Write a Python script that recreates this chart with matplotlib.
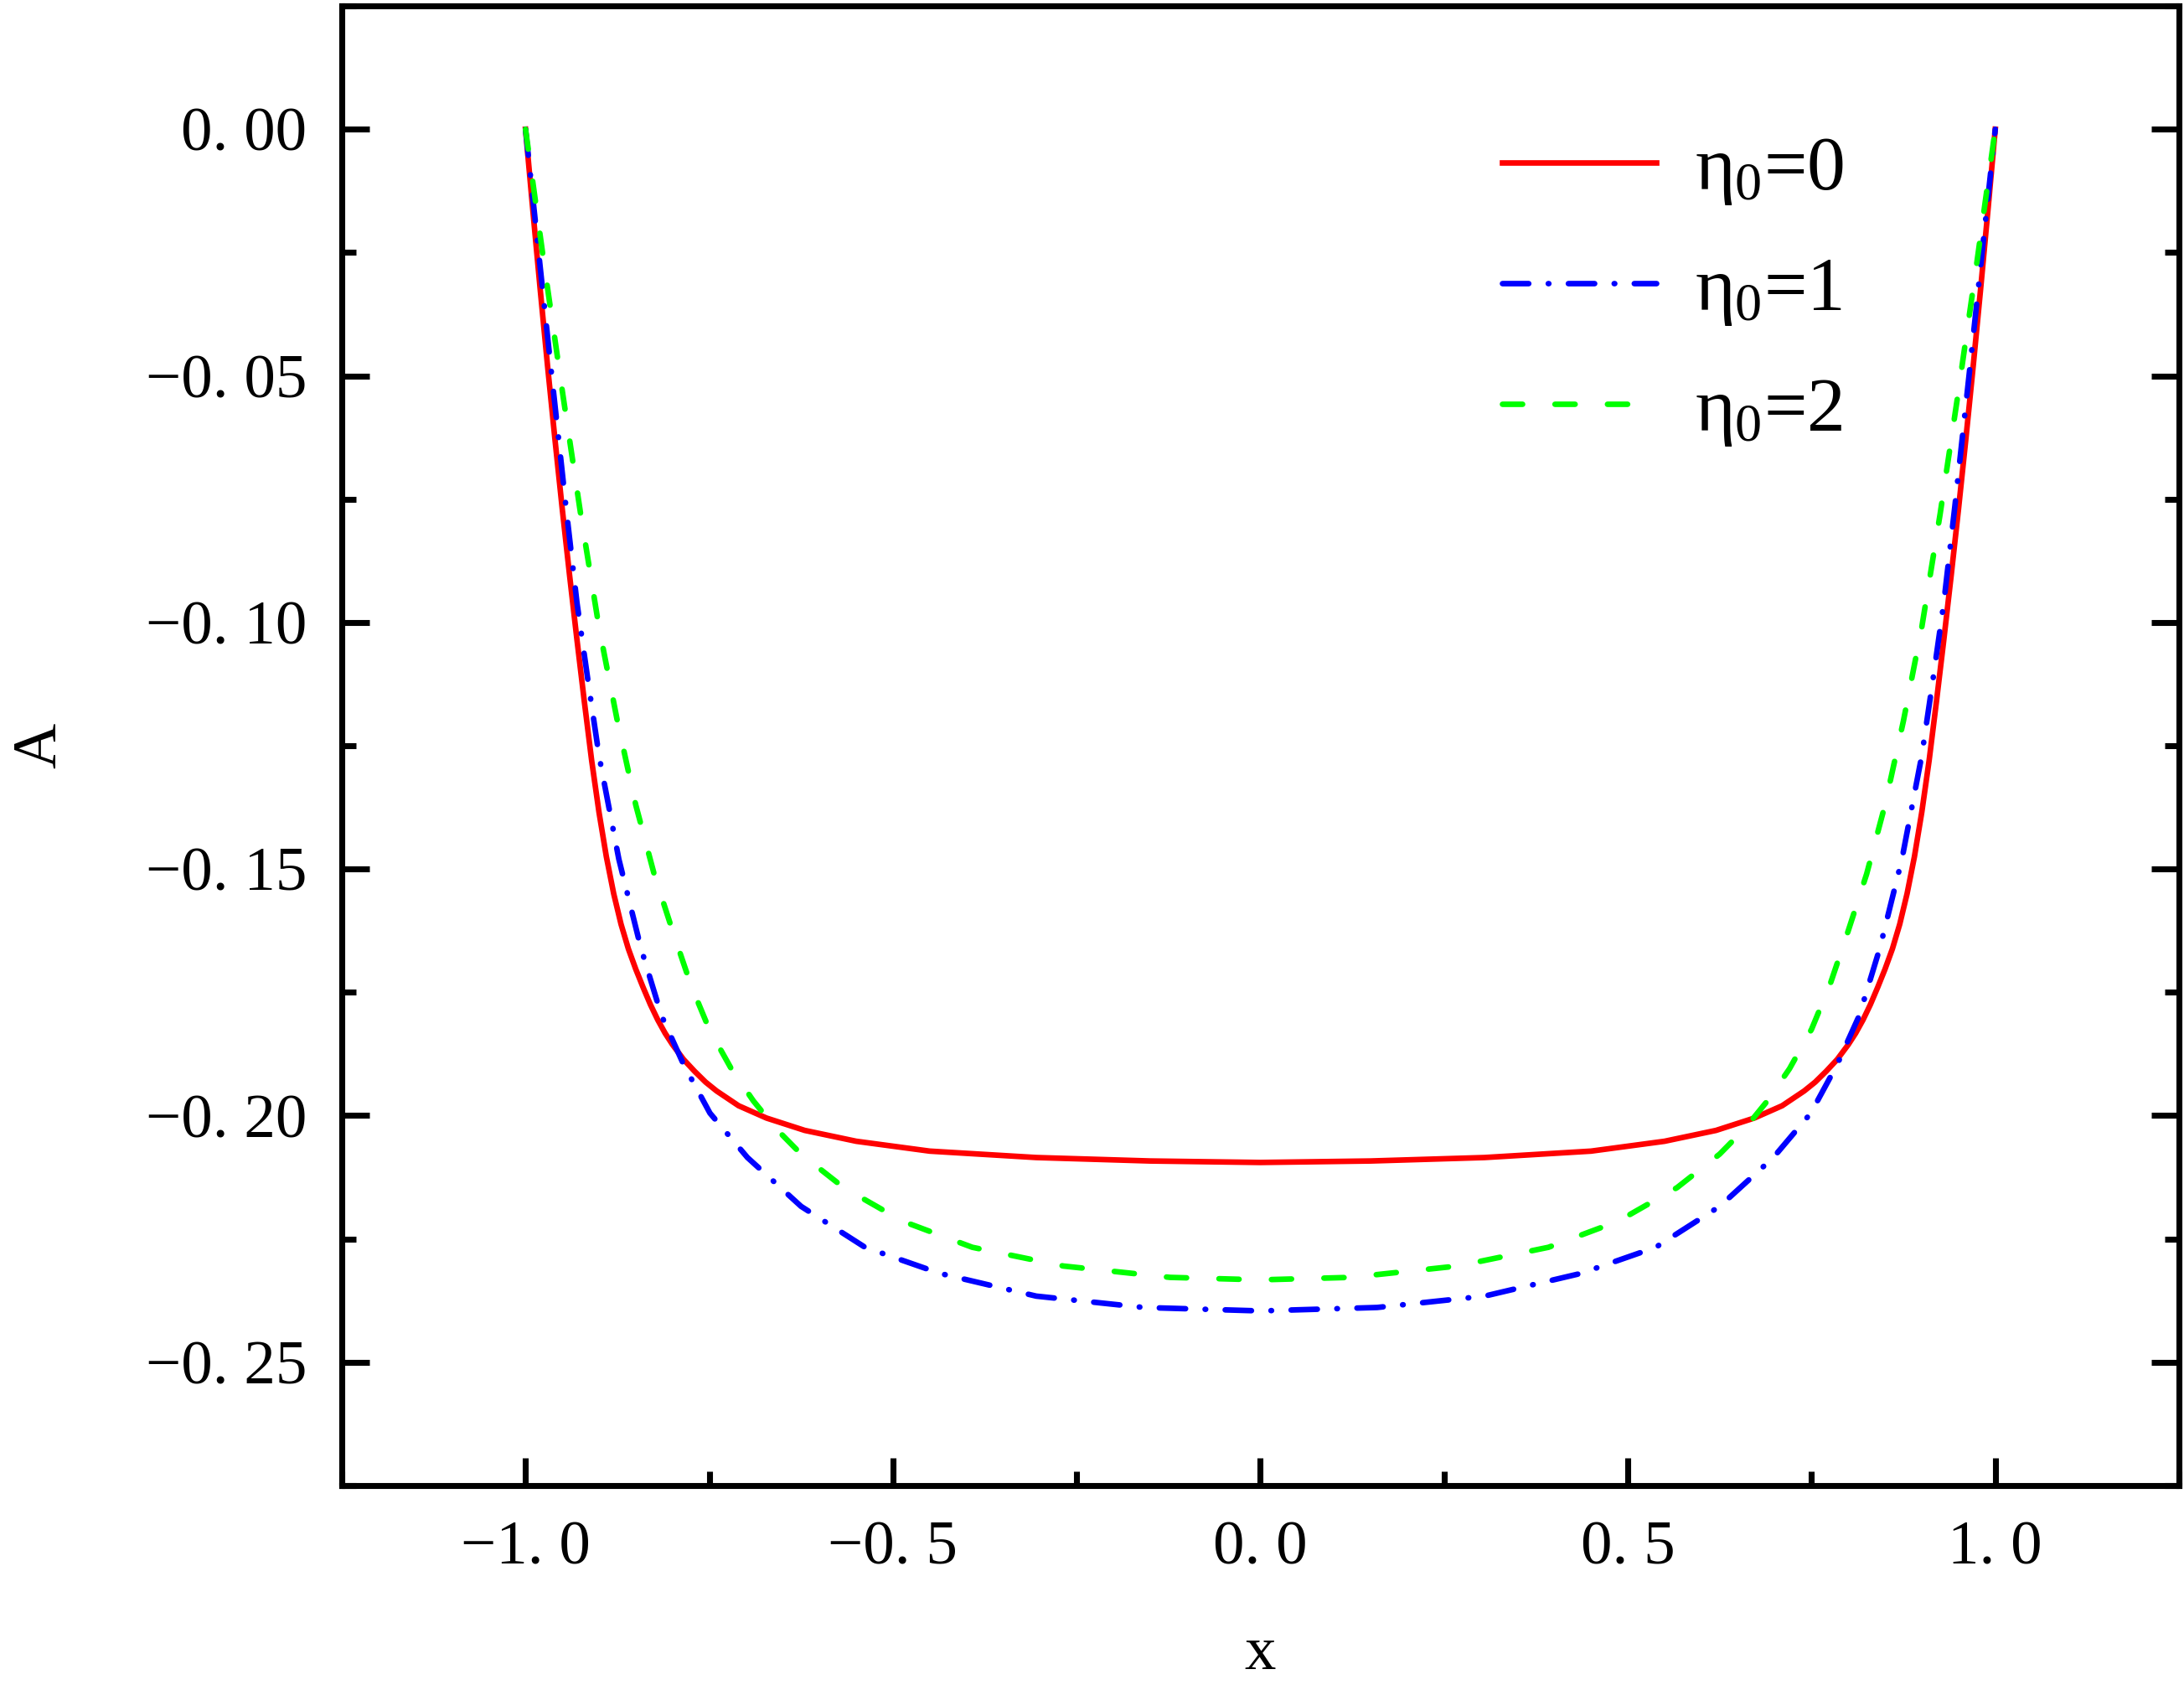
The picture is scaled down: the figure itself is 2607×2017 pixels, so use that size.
import matplotlib
matplotlib.use("Agg")
import matplotlib.pyplot as plt
from matplotlib.ticker import MultipleLocator, FuncFormatter

plt.rcParams['font.family'] = ['Liberation Serif', 'DejaVu Serif']
plt.rcParams['mathtext.fontset'] = 'custom'
plt.rcParams['mathtext.rm'] = 'Liberation Serif'
plt.rcParams['mathtext.it'] = 'Liberation Serif'

# eta0 = 0 (red, solid)
x_red = [-1.0, -0.99, -0.98, -0.97, -0.96, -0.95, -0.94, -0.93, -0.92, -0.91,
         -0.90, -0.89, -0.88, -0.87, -0.86, -0.85, -0.84, -0.83, -0.82, -0.81,
         -0.80, -0.785, -0.77, -0.755, -0.74, -0.71, -0.672, -0.62, -0.55, -0.45,
         -0.305, -0.15, 0.0,
         0.15, 0.305, 0.45, 0.55, 0.62, 0.672, 0.71, 0.74, 0.755, 0.77,
         0.785, 0.80, 0.81, 0.82, 0.83, 0.84, 0.85, 0.86, 0.87, 0.88,
         0.89, 0.90, 0.91, 0.92, 0.93, 0.94, 0.95, 0.96, 0.97, 0.98,
         0.99, 1.0]
a_red = [0.0, -0.0165, -0.0325, -0.048, -0.0628, -0.077, -0.0905, -0.1035, -0.116, -0.128,
         -0.1385, -0.1475, -0.155, -0.1612, -0.1662, -0.1703, -0.174, -0.1775, -0.1806, -0.1833,
         -0.1856, -0.1886, -0.191, -0.1932, -0.195, -0.198, -0.2005, -0.203, -0.2052, -0.2072,
         -0.2085, -0.2092, -0.2095,
         -0.2092, -0.2085, -0.2072, -0.2052, -0.203, -0.2005, -0.198, -0.195, -0.1932, -0.191,
         -0.1886, -0.1856, -0.1833, -0.1806, -0.1775, -0.174, -0.1703, -0.1662, -0.1612, -0.155,
         -0.1475, -0.1385, -0.128, -0.116, -0.1035, -0.0905, -0.077, -0.0628, -0.048, -0.0325,
         -0.0165, 0.0]

# eta0 = 1 (blue, dash-dot)
x_blue = [-1.0, -0.98, -0.965, -0.945, -0.93, -0.915, -0.90, -0.873, -0.843, -0.815,
          -0.785, -0.749, -0.698, -0.625, -0.538, -0.436, -0.305, -0.159, 0.0,
          0.159, 0.305, 0.436, 0.538, 0.625, 0.698, 0.749, 0.785, 0.815, 0.843,
          0.873, 0.90, 0.915, 0.93, 0.945, 0.965, 0.98, 1.0]
a_blue = [0.0, -0.028, -0.049, -0.0765, -0.096, -0.1118, -0.127, -0.148, -0.166, -0.1797,
          -0.1896, -0.1995, -0.2085, -0.2184, -0.2267, -0.232, -0.2366, -0.2389, -0.2396,
          -0.2389, -0.2366, -0.232, -0.2267, -0.2184, -0.2085, -0.1995, -0.1896, -0.1797, -0.166,
          -0.148, -0.127, -0.1118, -0.096, -0.0765, -0.049, -0.028, 0.0]

# eta0 = 2 (green, dashed)
x_green = [-1.0, -0.975, -0.95, -0.925, -0.90, -0.875, -0.85, -0.825, -0.80, -0.775,
           -0.75, -0.72, -0.69, -0.66, -0.625, -0.567, -0.487, -0.392, -0.268, -0.123,
           0.0, 0.123, 0.268, 0.392, 0.487, 0.567, 0.625, 0.66, 0.69, 0.72,
           0.75, 0.775, 0.80, 0.825, 0.85, 0.875, 0.90, 0.925, 0.95, 0.975, 1.0]
a_green = [0.0, -0.027, -0.053, -0.078, -0.101, -0.120, -0.137, -0.151, -0.1625, -0.1735,
           -0.1825, -0.1905, -0.197, -0.2025, -0.2078, -0.2146, -0.2214, -0.2267, -0.2305, -0.2328,
           -0.2333, -0.2328, -0.2305, -0.2267, -0.2214, -0.2146, -0.2078, -0.2025, -0.197, -0.1905,
           -0.1825, -0.1735, -0.1625, -0.151, -0.137, -0.120, -0.101, -0.078, -0.053, -0.027, 0.0]

labels = [r'$\eta_0$=0', r'$\eta_0$=1', r'$\eta_0$=2']

fig = plt.figure(figsize=(2607/300, 2017/300), dpi=300)
ax = fig.add_axes([0.1565, 0.121, 0.8412, 0.8755])

lw = 1.6
ax.plot(x_red, a_red, color='#ff0000', lw=lw, label=labels[0])
ax.plot(x_blue, a_blue, color='#0000ff', lw=lw, label=labels[1],
        linestyle=(0, (4.7, 3.5, 0.1, 3.5)), dash_capstyle='round')
ax.plot(x_green, a_green, color='#00ff00', lw=lw, label=labels[2],
        linestyle=(0, (3.6, 5.8)), dash_capstyle='round')

ax.set_xlim(-1.25, 1.25)
ax.set_ylim(-0.275, 0.025)
ax.set_xticks([-1.0, -0.5, 0.0, 0.5, 1.0])
ax.set_yticks([0.0, -0.05, -0.10, -0.15, -0.20, -0.25])
ax.xaxis.set_minor_locator(MultipleLocator(0.25))
ax.yaxis.set_minor_locator(MultipleLocator(0.025))
ax.xaxis.set_major_formatter(FuncFormatter(lambda v, p: f"{v:.1f}".replace('-', '\u2212').replace('.', '. ')))
ax.yaxis.set_major_formatter(FuncFormatter(lambda v, p: f"{v:.2f}".replace('-', '\u2212').replace('.', '. ')))

for s in ax.spines.values():
    s.set_linewidth(1.7)
ax.tick_params(which='both', direction='in', width=1.7, labelsize=18,
               left=True, right=True, top=False, bottom=True)
ax.tick_params(which='major', length=8, pad=10)
ax.tick_params(which='minor', length=4)

ax.set_xlabel('x', fontsize=18, labelpad=14)
ax.set_ylabel('A', fontsize=18, labelpad=22)

ax.legend(loc='upper left', bbox_to_anchor=(0.615, 0.933), frameon=False, fontsize=22,
          handlelength=2.0, handletextpad=0.5, labelspacing=0.64, borderaxespad=0)

fig.savefig('out.png', dpi=300)
